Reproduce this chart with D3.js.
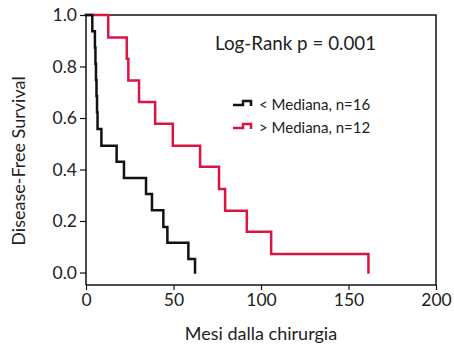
<!DOCTYPE html>
<html>
<head>
<meta charset="utf-8">
<script src="https://cdn.jsdelivr.net/npm/d3@7"></script>
<style>
  body { margin: 0; background: #fff; }
  text { font-family: Lato, "Open Sans", sans-serif; fill: #222; }
</style>
</head>
<body>
<script>
// Kaplan-Meier steps (months, survival)
var lowTimes = [3.6, 5.1, 5.4, 5.7, 6.0, 6.3, 6.6, 8.8, 17.5, 21.7, 34.3, 37.7, 44.2, 46.5, 58.5, 62.3];
var lowSurv  = [0.937, 0.874, 0.811, 0.748, 0.685, 0.622, 0.557, 0.492, 0.430, 0.367, 0.305, 0.242, 0.177, 0.116, 0.052, 0];

var highTimes = [12.7, 23.3, 24.2, 30.3, 39.5, 49.6, 65.2, 76.0, 79.5, 91.9, 105.8, 161.4];
var highSurv  = [0.913, 0.830, 0.746, 0.662, 0.578, 0.492, 0.411, 0.324, 0.240, 0.158, 0.072, 0];

var xTicks = [0, 50, 100, 150, 200];
var yTicks = [0, 0.2, 0.4, 0.6, 0.8, 1.0];

var legendLabels = ["< Mediana, n=16", "> Mediana, n=12"];
var colors = ["#111111", "#dc1443"];

var W = 454, H = 347;
var margin = {top: 15, right: 18, bottom: 62, left: 86},
    width = W - margin.left - margin.right,
    height = H - margin.top - margin.bottom;

var svg = d3.select("body")
    .append("svg")
    .attr("width", W)
    .attr("height", H);

var g = svg.append("g")
    .attr("transform", `translate(${margin.left},${margin.top})`);

// scales
var xScale = d3.scaleLinear()
    .domain([0, 200])
    .range([0, width]);

var yScale = d3.scaleLinear()
    .domain([-0.0485, 1.0])
    .range([height, 0]);

// box (top + right sides)
g.append("path")
    .attr("d", `M0,0H${width}V${height}`)
    .attr("fill", "none")
    .attr("stroke", "#111")
    .attr("stroke-width", 1.5);

// axes
var xAxis = d3.axisBottom(xScale)
    .tickValues(xTicks)
    .tickSize(5)
    .tickPadding(4)
    .tickFormat(d3.format("d"));

var xg = g.append("g")
    .attr("transform", `translate(0,${height})`)
    .call(xAxis);

var yAxis = d3.axisLeft(yScale)
    .tickValues(yTicks)
    .tickSize(6)
    .tickPadding(3)
    .tickFormat(d3.format(".1f"));

var yg = g.append("g").call(yAxis);

[xg, yg].forEach(function(a) {
    a.select(".domain").attr("stroke", "#111").attr("stroke-width", 1.5);
    a.selectAll(".tick line").attr("stroke", "#111").attr("stroke-width", 1.2);
    a.selectAll(".tick text").style("font-size", "17.5px").attr("fill", "#222");
});
// bottom axis: drop the outer ticks on the domain path
xg.select(".domain").attr("d", `M0,0H${width}`);
yg.select(".domain").attr("d", `M0,0V${height}`);

// survival curves
var line = d3.line()
    .x(d => xScale(d[0]))
    .y(d => yScale(d[1]))
    .curve(d3.curveStepAfter);

function steps(times, surv) {
    var pts = [[0, 1]];
    times.forEach(function(t, i) { pts.push([t, surv[i]]); });
    return pts;
}

g.append("path")
    .datum(steps(highTimes, highSurv))
    .attr("d", line)
    .attr("fill", "none")
    .attr("stroke", colors[1])
    .attr("stroke-width", 2.5)
    .attr("stroke-linecap", "square");

g.append("path")
    .datum(steps(lowTimes, lowSurv))
    .attr("d", line)
    .attr("fill", "none")
    .attr("stroke", colors[0])
    .attr("stroke-width", 2.5)
    .attr("stroke-linecap", "square");

// annotation
g.append("text")
    .attr("x", 129)
    .attr("y", 35)
    .style("font-size", "18.8px")
    .text("Log-Rank p = 0.001");

// legend
var leg = g.selectAll(".leg")
    .data(legendLabels)
    .enter()
    .append("g")
    .attr("class", "leg")
    .attr("transform", (d, i) => `translate(147,${90 + i * 23})`);

leg.append("path")
    .attr("d", "M0,0H10V-4H18V1")
    .attr("fill", "none")
    .attr("stroke", (d, i) => colors[i])
    .attr("stroke-width", 2.5);

leg.append("text")
    .attr("x", 26)
    .attr("y", 5)
    .style("font-size", "15px")
    .text(d => d);

// axis titles
svg.append("text")
    .attr("x", margin.left + width / 2)
    .attr("y", 340)
    .attr("text-anchor", "middle")
    .style("font-size", "18px")
    .text("Mesi dalla chirurgia");

svg.append("text")
    .attr("transform", "rotate(-90)")
    .attr("x", -161)
    .attr("y", 25)
    .attr("text-anchor", "middle")
    .style("font-size", "18px")
    .text("Disease-Free Survival");
</script>
</body>
</html>
